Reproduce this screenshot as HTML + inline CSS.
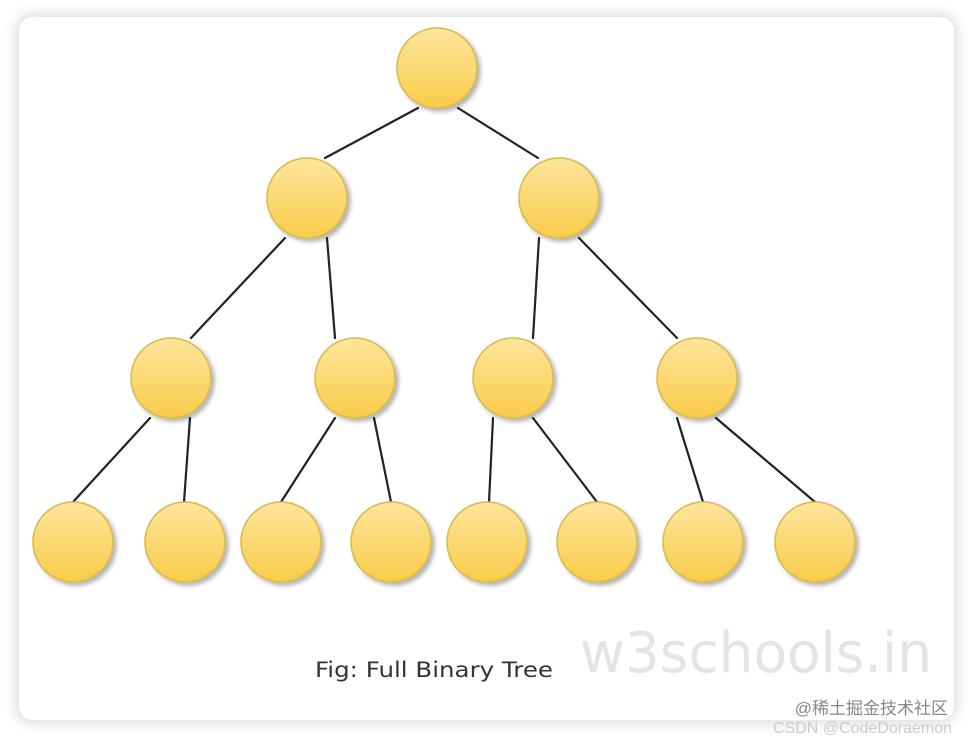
<!DOCTYPE html>
<html><head><meta charset="utf-8"><style>
html,body{margin:0;padding:0;background:#fff;}
body{width:972px;height:738px;position:relative;overflow:hidden;font-family:"Liberation Sans","Noto Sans CJK SC",sans-serif;}
.card{position:absolute;left:19px;top:17px;width:935px;height:703px;border-radius:14px;background:#fff;box-shadow:0 0 12px 4px rgba(0,0,0,0.13);}
svg{position:absolute;left:0;top:0;}
</style></head><body>
<div class="card"></div>
<svg width="972" height="738" viewBox="0 0 972 738">
<defs>
<linearGradient id="g" x1="0" y1="0" x2="0" y2="1">
<stop offset="0" stop-color="#fde59c"/><stop offset="1" stop-color="#f9cc4a"/>
</linearGradient>
<filter id="s" x="-20%" y="-20%" width="150%" height="150%"><feDropShadow dx="3" dy="3" stdDeviation="2" flood-color="#000" flood-opacity="0.3"/></filter>
</defs>
<g stroke="#222" stroke-width="2.2" stroke-linecap="round">
<line x1="418" y1="108" x2="325" y2="158"/><line x1="458" y1="108" x2="538" y2="158"/>
<line x1="285" y1="238" x2="191" y2="338"/><line x1="327" y1="238" x2="335" y2="338"/>
<line x1="539" y1="238" x2="533" y2="338"/><line x1="579" y1="238" x2="677" y2="338"/>
<line x1="150" y1="418" x2="73" y2="502"/><line x1="190" y1="418" x2="184" y2="502"/>
<line x1="335" y1="418" x2="281" y2="502"/><line x1="374" y1="418" x2="391" y2="502"/>
<line x1="493" y1="418" x2="489" y2="502"/><line x1="533" y1="418" x2="597" y2="502"/>
<line x1="677" y1="418" x2="703" y2="502"/><line x1="716" y1="418" x2="815" y2="502"/>
</g>
<g fill="url(#g)" stroke="#d8b94a" stroke-width="1.5" filter="url(#s)">
<circle cx="437" cy="68" r="40"/>
<circle cx="307" cy="198" r="40"/><circle cx="559" cy="198" r="40"/>
<circle cx="171" cy="378" r="40"/><circle cx="355" cy="378" r="40"/><circle cx="513" cy="378" r="40"/><circle cx="697" cy="378" r="40"/>
<circle cx="73" cy="542" r="40"/><circle cx="185" cy="542" r="40"/><circle cx="281" cy="542" r="40"/><circle cx="391" cy="542" r="40"/>
<circle cx="487" cy="542" r="40"/><circle cx="597" cy="542" r="40"/><circle cx="703" cy="542" r="40"/><circle cx="815" cy="542" r="40"/>
</g>
<text x="315" y="677" font-family="DejaVu Sans, sans-serif" font-size="21" fill="#333" textLength="238" lengthAdjust="spacingAndGlyphs">Fig: Full Binary Tree</text>
<text x="580" y="672" font-family="DejaVu Sans, sans-serif" font-size="56" fill="#e4e4e4" textLength="352" lengthAdjust="spacingAndGlyphs">w3schools.in</text>
<text x="948" y="714" text-anchor="end" font-family="Liberation Sans, Noto Sans CJK SC, sans-serif" font-size="17" fill="#888">@稀土掘金技术社区</text>
<text x="952" y="733" text-anchor="end" font-family="Liberation Sans, sans-serif" font-size="16" fill="#ccc">CSDN @CodeDoraemon</text>
</svg>
</body></html>
